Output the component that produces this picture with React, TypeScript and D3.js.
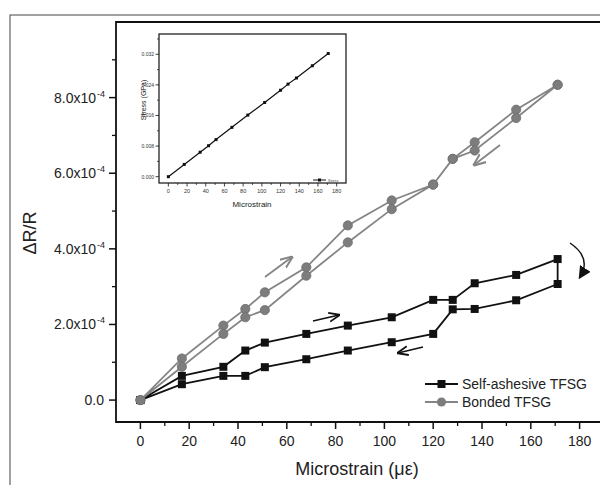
import React from 'react';
import * as d3 from 'd3';

// strain points (με), loading order
const strain = [0, 17, 34, 43, 51, 68, 85, 103, 120, 128, 137, 154, 171];

// ΔR/R in units of 1e-4
const selfLoad = [0, 0.64, 0.88, 1.31, 1.52, 1.75, 1.97, 2.19, 2.65, 2.65, 3.09, 3.31, 3.73];
const selfUnload = [3.07, 2.64, 2.41, 2.4, 1.75, 1.53, 1.31, 1.08, 0.87, 0.64, 0.64, 0.42, 0];
const bondedLoad = [0, 1.1, 1.97, 2.41, 2.85, 3.51, 4.62, 5.28, 5.7, 6.38, 6.82, 7.68, 8.34];
const bondedUnload = [8.34, 7.46, 6.6, 6.38, 5.7, 5.05, 4.17, 3.29, 2.38, 2.19, 1.75, 0.88, 0];

// inset: stress (GPa)
const stress = [0, 0.0032, 0.0064, 0.0081, 0.0097, 0.0129, 0.0161, 0.0194, 0.0226, 0.0242, 0.0258, 0.029, 0.0322];

const xTicks = [0, 20, 40, 60, 80, 100, 120, 140, 160, 180];
const xMinor = [10, 30, 50, 70, 90, 110, 130, 150, 170, 190];
const yTicks = [0, 2, 4, 6, 8];
const yMinor = [1, 3, 5, 7, 9];
const yLabels = ['0.0', '2.0x10', '4.0x10', '6.0x10', '8.0x10'];
const insetYTicks = [0, 0.008, 0.016, 0.024, 0.032];
const insetYLabels = ['0.000', '0.008', '0.016', '0.024', '0.032'];
const insetYMinor = [0.004, 0.012, 0.02, 0.028, 0.036];
const legendNames = ['Self-ashesive TFSG', 'Bonded TFSG'];

const FONT = 'Liberation Sans, Arial, sans-serif';
const GRAY = '#858585';

const loop = (load: number[], unload: number[]) =>
  strain.map((s, i) => [s, load[i]]).concat(
    strain.slice().reverse().map((s, i) => [s, unload[i]])
  );

export default function App() {
  const x = d3.scaleLinear().domain([-10, 190]).range([116, 604]);
  const y = d3.scaleLinear().domain([-0.58, 10]).range([422, 22]);

  const line = d3.line<number[]>().x(d => x(d[0])).y(d => y(d[1]));
  const selfPts = loop(selfLoad, selfUnload);
  const bondPts = loop(bondedLoad, bondedUnload);

  // inset scales
  const ix = d3.scaleLinear().domain([-10, 190]).range([159, 346]);
  const iy = d3.scaleLinear().domain([-0.00165, 0.0373]).range([183, 34]);
  const iline = d3.line<number>().x((d, i) => ix(strain[i])).y(d => iy(d));

  const curve = d3.path();
  curve.moveTo(570, 243);
  curve.quadraticCurveTo(592, 258, 580, 277);

  return (
    <svg width={600} height={485} style={{ position: 'absolute', left: 0, top: 0, background: '#fff' }} fontFamily={FONT}>
      <defs>
        <marker id="ahB" viewBox="0 0 10 10" refX="9" refY="5" markerWidth="7" markerHeight="7" orient="auto">
          <path d="M0,1 L10,5 L0,9" fill="none" stroke="#111" strokeWidth="1.6" />
        </marker>
        <marker id="ahG" viewBox="0 0 10 10" refX="9" refY="5" markerWidth="7" markerHeight="7" orient="auto">
          <path d="M0,1 L10,5 L0,9" fill="none" stroke={GRAY} strokeWidth="1.6" />
        </marker>
        <marker id="ahT" viewBox="0 0 10 10" refX="8" refY="5" markerWidth="9" markerHeight="9" orient="auto">
          <path d="M0,0 L10,5 L0,10 Z" fill="#111" />
        </marker>
      </defs>

      {/* outer border */}
      <rect x={10} y={15} width={600} height={480} fill="none" stroke="#444" strokeWidth={1} />

      {/* main frame */}
      <path d="M604,22 H116 V422 H604" fill="none" stroke="#111" strokeWidth={1.8} />

      {/* x ticks */}
      {xTicks.map(t => (
        <g key={'xt' + t}>
          <line x1={x(t)} x2={x(t)} y1={422} y2={429} stroke="#111" strokeWidth={1.5} />
          <text x={x(t)} y={446} textAnchor="middle" fontSize={14} fill="#222">{t}</text>
        </g>
      ))}
      {xMinor.map(t => (
        <line key={'xm' + t} x1={x(t)} x2={x(t)} y1={422} y2={426} stroke="#111" strokeWidth={1.3} />
      ))}

      {/* y ticks */}
      {yTicks.map((t, i) => (
        <g key={'yt' + t}>
          <line x1={109} x2={116} y1={y(t)} y2={y(t)} stroke="#111" strokeWidth={1.5} />
          <text x={i === 0 ? 104 : 96} y={y(t) + 5} textAnchor="end" fontSize={14} fill="#222">
            {yLabels[i]}
          </text>
          {i > 0 && (
            <text x={97} y={y(t) - 1} fontSize={9} fill="#222">-4</text>
          )}
        </g>
      ))}
      {yMinor.map(t => (
        <line key={'ym' + t} x1={112} x2={116} y1={y(t)} y2={y(t)} stroke="#111" strokeWidth={1.3} />
      ))}

      {/* axis titles */}
      <text x={357} y={475} textAnchor="middle" fontSize={18} fill="#222">Microstrain (με)</text>
      <text transform="translate(36,233) rotate(-90)" textAnchor="middle" fontSize={18} fill="#222">ΔR/R</text>

      {/* self-adhesive series */}
      <path d={line(selfPts) || ''} fill="none" stroke="#111" strokeWidth={1.8} />
      {selfPts.map((p, i) => (
        <rect key={'s' + i} x={x(p[0]) - 4} y={y(p[1]) - 4} width={8} height={8} fill="#111" />
      ))}

      {/* bonded series */}
      <path d={line(bondPts) || ''} fill="none" stroke={GRAY} strokeWidth={1.8} />
      {bondPts.map((p, i) => (
        <circle key={'b' + i} cx={x(p[0])} cy={y(p[1])} r={4.6} fill="#7d7d7d" stroke="#6e6e6e" strokeWidth={0.8} />
      ))}

      {/* direction arrows */}
      <line x1={265} y1={277} x2={292} y2={257} stroke={GRAY} strokeWidth={1.8} markerEnd="url(#ahG)" />
      <line x1={500} y1={145} x2={474} y2={165} stroke={GRAY} strokeWidth={1.8} markerEnd="url(#ahG)" />
      <line x1={313} y1={321} x2={339} y2={315} stroke="#111" strokeWidth={1.6} markerEnd="url(#ahB)" />
      <line x1={423} y1={347} x2={398} y2={353} stroke="#111" strokeWidth={1.6} markerEnd="url(#ahB)" />
      <path d={curve.toString()} fill="none" stroke="#111" strokeWidth={1.4} markerEnd="url(#ahT)" />

      {/* legend */}
      {legendNames.map((n, i) => {
        const ly = 384 + i * 18;
        const c = i === 0 ? '#111' : GRAY;
        return (
          <g key={n}>
            <line x1={425} x2={458} y1={ly} y2={ly} stroke={c} strokeWidth={1.8} />
            {i === 0 ? (
              <rect x={437.5} y={ly - 4} width={8} height={8} fill="#111" />
            ) : (
              <circle cx={441.5} cy={ly} r={4.6} fill="#7d7d7d" />
            )}
            <text x={462} y={ly + 5} fontSize={14} fill="#222">{n}</text>
          </g>
        );
      })}

      {/* inset */}
      <rect x={159} y={34} width={187} height={149} fill="#fff" stroke="#111" strokeWidth={1.2} />
      {xTicks.map(t => (
        <g key={'ixt' + t}>
          <line x1={ix(t)} x2={ix(t)} y1={183} y2={186.5} stroke="#111" strokeWidth={0.8} />
          <text x={ix(t)} y={193} textAnchor="middle" fontSize={5.5} fill="#333">{t}</text>
        </g>
      ))}
      {xMinor.slice(0, 9).map(t => (
        <line key={'ixm' + t} x1={ix(t)} x2={ix(t)} y1={183} y2={185} stroke="#111" strokeWidth={0.7} />
      ))}
      {insetYTicks.map((t, i) => (
        <g key={'iyt' + t}>
          <line x1={155.5} x2={159} y1={iy(t)} y2={iy(t)} stroke="#111" strokeWidth={0.8} />
          <text x={154} y={iy(t) + 2} textAnchor="end" fontSize={5} fill="#333">{insetYLabels[i]}</text>
        </g>
      ))}
      {insetYMinor.map(t => (
        <line key={'iym' + t} x1={157} x2={159} y1={iy(t)} y2={iy(t)} stroke="#111" strokeWidth={0.7} />
      ))}
      <text x={252} y={207} textAnchor="middle" fontSize={8} fill="#222">Microstrain</text>
      <text transform="translate(146,100) rotate(-90)" textAnchor="middle" fontSize={7} fill="#222">Stress (GPa)</text>
      <path d={iline(stress) || ''} fill="none" stroke="#111" strokeWidth={1.2} />
      {stress.map((s, i) => (
        <rect key={'is' + i} x={ix(strain[i]) - 1.5} y={iy(s) - 1.5} width={3} height={3} fill="#111" />
      ))}
      <line x1={313} x2={326} y1={180} y2={180} stroke="#111" strokeWidth={1} />
      <rect x={318} y={178.5} width={3} height={3} fill="#111" />
      <text x={328} y={181.5} fontSize={3.6} fill="#444">Stress</text>
    </svg>
  );
}
